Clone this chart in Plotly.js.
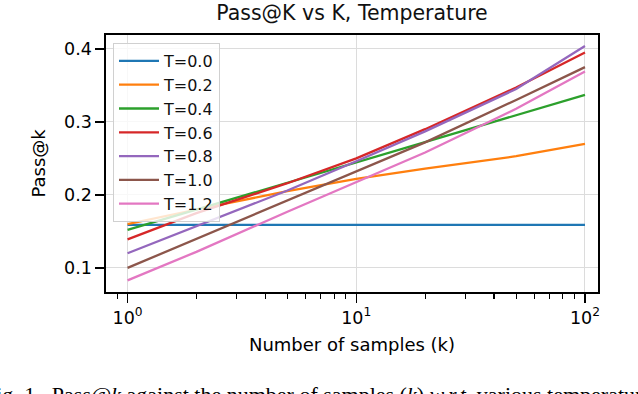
<!DOCTYPE html>
<html>
<head>
<meta charset="utf-8">
<script src="https://cdn.plot.ly/plotly-3.0.1.min.js"></script>
<style>
  html, body { margin: 0; padding: 0; background: #fff; }
  #chart { width: 638px; height: 394px; }
</style>
</head>
<body>
<div id="chart"></div>
<script>
// samples k on the x axis (log scale)
const kValues = [1, 2, 5, 10, 20, 50, 100];
const tempLabels = ['T=0.0', 'T=0.2', 'T=0.4', 'T=0.6', 'T=0.8', 'T=1.0', 'T=1.2'];
const lineColors = ['#1f77b4', '#ff7f0e', '#2ca02c', '#d62728', '#9467bd', '#8c564b', '#e377c2'];

// pass@k, one array per temperature
const passT00 = [0.159, 0.159, 0.159, 0.159, 0.159, 0.159, 0.159];
const passT02 = [0.160, 0.180, 0.205, 0.222, 0.236, 0.253, 0.270];
const passT04 = [0.152, 0.180, 0.217, 0.2445, 0.272, 0.309, 0.337];
const passT06 = [0.139, 0.175, 0.216, 0.250, 0.290, 0.347, 0.395];
const passT08 = [0.120, 0.157, 0.206, 0.246, 0.287, 0.345, 0.404];
const passT10 = [0.100, 0.140, 0.193, 0.232, 0.272, 0.330, 0.375];
const passT12 = [0.083, 0.122, 0.177, 0.218, 0.258, 0.318, 0.369];

const xTickVals = [1, 10, 100];
const xTickText = ['10<sup>0</sup>', '10<sup>1</sup>', '10<sup>2</sup>'];
const xMinorVals = [0.8, 0.9, 2, 3, 4, 5, 6, 7, 8, 9, 20, 30, 40, 50, 60, 70, 80, 90];
const yTickVals = [0.1, 0.2, 0.3, 0.4];

const series = [passT00, passT02, passT04, passT06, passT08, passT10, passT12];

var data = series.map((vals, i) => ({
  type: 'scatter',
  mode: 'lines',
  x: kValues,
  y: vals,
  name: tempLabels[i],
  line: { color: lineColors[i], width: 2.3 }
}));

// pixel helpers for things placed outside the plot area
const W = 638, H = 394;
const mar = { l: 106, r: 40, t: 35, b: 102 };
const pw = W - mar.l - mar.r, ph = H - mar.t - mar.b;
const pxX = px => (px - mar.l) / pw;
const pxY = py => 1 - (py - mar.t) / ph;

var layout = {
  width: W,
  height: H,
  margin: mar,
  paper_bgcolor: '#ffffff',
  plot_bgcolor: '#ffffff',
  font: { family: 'DejaVu Sans', size: 16, color: '#000' },
  title: {
    text: 'Pass@K vs K, Temperature',
    font: { family: 'DejaVu Sans', size: 20.5, color: '#111' },
    x: 0.5, xref: 'paper',
    y: 1 - 13 / H, yref: 'container', yanchor: 'middle'
  },
  xaxis: {
    type: 'log',
    range: [Math.log10(0.805), Math.log10(114)],
    tickmode: 'array',
    tickvals: xTickVals,
    ticktext: xTickText,
    ticks: 'outside', ticklen: 9, tickwidth: 1.4, tickcolor: '#000',
    showline: true, mirror: true, linecolor: '#000', linewidth: 1.6,
    showgrid: true, gridcolor: '#dcdcdc', gridwidth: 1,
    zeroline: false,
    tickfont: { size: 17.5 },
    minor: {
      tickmode: 'array',
      tickvals: xMinorVals,
      ticks: 'outside', ticklen: 5, tickwidth: 1.1, tickcolor: '#000',
      showgrid: false
    },
    title: { text: 'Number of samples (k)', font: { size: 18 }, standoff: 12 }
  },
  yaxis: {
    range: [0.067, 0.419],
    tickmode: 'array',
    tickvals: yTickVals,
    tickformat: '.1f',
    ticksuffix: '\u2002',
    ticks: 'outside', ticklen: 9, tickwidth: 1.4, tickcolor: '#000',
    showline: true, mirror: true, linecolor: '#000', linewidth: 1.6,
    showgrid: true, gridcolor: '#dcdcdc', gridwidth: 1,
    zeroline: false,
    tickfont: { size: 17.5 }
  },
  showlegend: true,
  legend: {
    x: pxX(113), y: pxY(43),
    xanchor: 'left', yanchor: 'top',
    bgcolor: 'rgba(255,255,255,0.8)',
    bordercolor: '#d0d0d0', borderwidth: 1,
    itemwidth: 40,
    font: { size: 16, color: '#111' }
  },
  annotations: [{
    // y axis title, placed by pixel
    text: 'Pass@k',
    xref: 'paper', yref: 'paper',
    x: pxX(38), y: pxY(163.5),
    xanchor: 'center', yanchor: 'middle',
    textangle: -90,
    showarrow: false,
    font: { size: 18, color: '#000' }
  }, {
    // figure caption, cut by the bottom edge in the reference
    text: 'Fig. 1.&nbsp;&nbsp;Pass@<i>k</i> against the number of samples (<i>k</i>) <i>w.r.t.</i> various temperatures.',
    xref: 'paper', yref: 'paper',
    x: pxX(-18), y: pxY(380),
    xanchor: 'left', yanchor: 'top',
    showarrow: false,
    font: { family: 'Liberation Serif', size: 22, color: '#000' }
  }]
};

Plotly.newPlot('chart', data, layout, { displayModeBar: false, staticPlot: true });
</script>
</body>
</html>
